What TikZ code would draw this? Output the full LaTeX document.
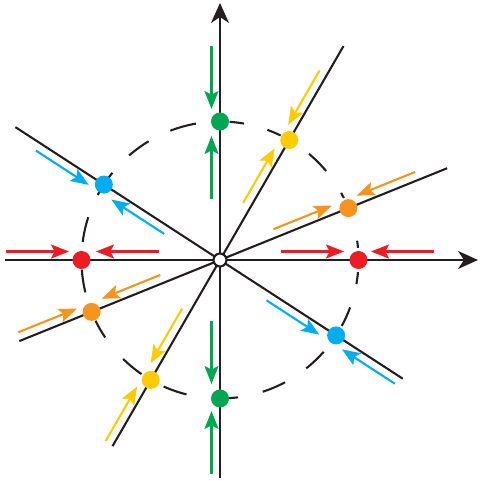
\documentclass[tikz,border=0pt]{standalone}
\usepackage{xcolor}
\usepackage{tikz}
\usetikzlibrary{arrows.meta,calc}
\definecolor{ink}{RGB}{35,31,32}
\definecolor{grn}{RGB}{0,166,81}
\definecolor{rd}{RGB}{237,28,36}
\definecolor{org}{RGB}{247,148,29}
\definecolor{ylw}{RGB}{255,203,5}
\definecolor{blu}{RGB}{0,174,239}

\begin{document}
\begin{tikzpicture}[x=0.5pt,y=0.5pt,line width=1.05pt,
        axis/.style={ink,-{Stealth[length=10pt,width=9pt,inset=3pt]}},
        ray/.style={ink},
        ring/.style={ink},
        flow/.style={-{Stealth[length=9pt,width=7pt,inset=1.8pt]}},
        dot/.style={circle,inner sep=0pt,minimum size=9pt},
        origin/.style={circle,draw=ink,fill=white,inner sep=0pt,minimum size=6.5pt}]
    \useasboundingbox (-220,-221) rectangle (273,260);
    % broken circle
    \foreach \a/\b in {-86.5/-82.5,-72/-62,-51.5/-41.5,-28.4/-20,-10/-5,5/8,26.6/29,40/50,64/70,80/86,
                       100/111,121/131,141/143.5,150.5/152,162/172.5,184/193.5,206/214,225.6/235.5,246/256}
        \draw[ring] (\a:138.5) arc[start angle=\a,end angle=\b,radius=138.5];
    % axes and rays
    \coordinate (xl) at (180:215);   \coordinate (xr) at (0:258);
    \coordinate (yb) at (270:218);   \coordinate (yt) at (90:257);
    \coordinate (al) at (240:215);   \coordinate (ar) at (60:247);
    \coordinate (bl) at (202:216.5); \coordinate (br) at (22:245);
    \coordinate (cl) at (147:244);   \coordinate (cr) at (327:218);
    \draw[axis] (xl) -- (xr);
    \draw[axis] (yb) -- (yt);
    \draw[ray] (al) -- (ar);
    \draw[ray] (bl) -- (br);
    \draw[ray] (cl) -- (cr);
    \node[origin] (o) at (0,0) {};
    % fixed points with the flow towards them
    \foreach \t/\p/\c in {90/180/grn,270/180/grn,60/150/ylw,240/150/ylw,22/112/org,
                          202/112/org,0/90/rd,180/90/rd,147/237/blu,327/237/blu} {
        \node[dot,fill=\c] (p\t) at (\t:138.5) {};
        \coordinate (u\t) at ($(\t:214)+(\p:8.5)$);
        \coordinate (v\t) at ($(\t:151)+(\p:8.5)$);
        \coordinate (w\t) at ($(\t:61)+(\p:8.5)$);
        \coordinate (z\t) at ($(\t:124)+(\p:8.5)$);
        \draw[flow,\c] (u\t) -- (v\t);
        \draw[flow,\c] (w\t) -- (z\t);
    }
\end{tikzpicture}
\end{document}
